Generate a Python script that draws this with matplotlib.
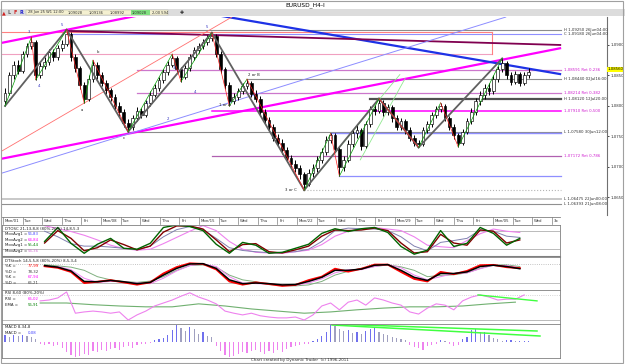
import matplotlib
matplotlib.use("Agg")
import matplotlib.pyplot as plt
from matplotlib.patches import Rectangle
from matplotlib.lines import Line2D

plt.rcParams["font.family"] = "DejaVu Sans"

# ── price data: EURUSD H4 bars (open of bar i = close of bar i-1) ─────────────
first_open = 1.0808
closes = [1.0822, 1.0850, 1.0868, 1.0858, 1.0885, 1.0898, 1.0905, 1.0850, 1.0866, 1.0872,
          1.0888, 1.0880, 1.0895, 1.0902, 1.0918, 1.0880, 1.0862, 1.0835, 1.0812, 1.0845,
          1.0868, 1.0850, 1.0838, 1.0826, 1.0815, 1.0800, 1.0790, 1.0772, 1.0765, 1.0780,
          1.0792, 1.0786, 1.0805, 1.0818, 1.0830, 1.0842, 1.0855, 1.0868, 1.0878, 1.0860,
          1.0848, 1.0862, 1.0880, 1.0892, 1.0898, 1.0905, 1.0912, 1.0915, 1.0885, 1.0860,
          1.0835, 1.0808, 1.0815, 1.0825, 1.0832, 1.0838, 1.0820, 1.0812, 1.0790, 1.0777,
          1.0765, 1.0748, 1.0740, 1.0728, 1.0715, 1.0705, 1.0698, 1.0688, 1.0672, 1.0690,
          1.0698, 1.0712, 1.0725, 1.0745, 1.0752, 1.0730, 1.0700, 1.0712, 1.0738, 1.0755,
          1.0760, 1.0735, 1.0770, 1.0795, 1.0792, 1.0805, 1.0790, 1.0798, 1.0780, 1.0765,
          1.0775, 1.0760, 1.0748, 1.0740, 1.0738, 1.0760, 1.0770, 1.0785, 1.0795, 1.0800,
          1.0780, 1.0765, 1.0752, 1.0740, 1.0758, 1.0775, 1.0790, 1.0808, 1.0818, 1.0830,
          1.0825, 1.0845, 1.0860, 1.0870, 1.0850, 1.0840, 1.0852, 1.0838, 1.0850, 1.0856]
highs = [1.0830, 1.0856, 1.0874, 1.0876, 1.0890, 1.0904, 1.0913, 1.0908, 1.0872, 1.0880,
         1.0894, 1.0893, 1.0900, 1.0908, 1.0925, 1.0921, 1.0886, 1.0866, 1.0840, 1.0850,
         1.0875, 1.0872, 1.0856, 1.0842, 1.0830, 1.0820, 1.0806, 1.0795, 1.0778, 1.0786,
         1.0798, 1.0797, 1.0810, 1.0824, 1.0836, 1.0848, 1.0860, 1.0874, 1.0885, 1.0882,
         1.0864, 1.0868, 1.0886, 1.0897, 1.0904, 1.0910, 1.0917, 1.0920, 1.0918, 1.0890,
         1.0864, 1.0840, 1.0822, 1.0830, 1.0838, 1.0844, 1.0841, 1.0826, 1.0816, 1.0795,
         1.0782, 1.0770, 1.0754, 1.0746, 1.0732, 1.0720, 1.0712, 1.0703, 1.0692, 1.0696,
         1.0705, 1.0718, 1.0731, 1.0750, 1.0755, 1.0756, 1.0734, 1.0718, 1.0744, 1.0761,
         1.0768, 1.0764, 1.0776, 1.0800, 1.0802, 1.0812, 1.0809, 1.0804, 1.0802, 1.0785,
         1.0781, 1.0779, 1.0765, 1.0752, 1.0745, 1.0765, 1.0776, 1.0790, 1.0800, 1.0805,
         1.0803, 1.0784, 1.0770, 1.0756, 1.0763, 1.0780, 1.0796, 1.0813, 1.0824, 1.0836,
         1.0838, 1.0850, 1.0866, 1.0878, 1.0873, 1.0855, 1.0857, 1.0856, 1.0855, 1.0862]
lows = [1.0800, 1.0818, 1.0845, 1.0852, 1.0854, 1.0880, 1.0893, 1.0843, 1.0846, 1.0860,
        1.0868, 1.0874, 1.0876, 1.0890, 1.0898, 1.0874, 1.0855, 1.0828, 1.0805, 1.0808,
        1.0840, 1.0844, 1.0832, 1.0820, 1.0808, 1.0794, 1.0784, 1.0766, 1.0758, 1.0760,
        1.0776, 1.0780, 1.0782, 1.0800, 1.0814, 1.0825, 1.0838, 1.0850, 1.0864, 1.0855,
        1.0840, 1.0844, 1.0858, 1.0876, 1.0887, 1.0893, 1.0900, 1.0906, 1.0880, 1.0854,
        1.0828, 1.0800, 1.0803, 1.0810, 1.0820, 1.0828, 1.0815, 1.0806, 1.0784, 1.0770,
        1.0760, 1.0742, 1.0734, 1.0722, 1.0708, 1.0700, 1.0692, 1.0680, 1.0662, 1.0668,
        1.0684, 1.0692, 1.0706, 1.0720, 1.0740, 1.0724, 1.0685, 1.0694, 1.0708, 1.0732,
        1.0748, 1.0728, 1.0731, 1.0765, 1.0786, 1.0788, 1.0784, 1.0785, 1.0774, 1.0760,
        1.0760, 1.0754, 1.0742, 1.0735, 1.0732, 1.0734, 1.0755, 1.0766, 1.0780, 1.0790,
        1.0775, 1.0760, 1.0746, 1.0733, 1.0736, 1.0754, 1.0770, 1.0786, 1.0802, 1.0812,
        1.0818, 1.0820, 1.0840, 1.0856, 1.0845, 1.0834, 1.0836, 1.0832, 1.0834, 1.0846]

# swing points (bar index, high/low)
minor_swings = [(0, "l"), (6, "h"), (7, "l"), (14, "h"), (18, "l"), (20, "h"), (28, "l"),
                (38, "h"), (40, "l"), (47, "h"), (51, "l"), (55, "h"), (68, "l"), (74, "h"),
                (76, "l"), (85, "h"), (94, "l"), (99, "h"), (103, "l"), (113, "h")]
major_swings = [(0, "l"), (14, "h"), (28, "l"), (47, "h"), (68, "l"), (85, "h"), (94, "l"), (113, "h")]

# wave labels (text, bar, price, colour)
wave_labels = [("3", 5.5, 1.0922, "#3030c0"), ("5", 13.0, 1.0932, "#3030c0"),
               ("4", 7.7, 1.0832, "#3030c0"), ("b", 21.0, 1.0888, "#202020"),
               ("a", 17.5, 1.0793, "#202020"), ("c", 27.0, 1.0747, "#202020"),
               ("1", 32.3, 1.0805, "#3030c0"), ("2", 37.0, 1.0778, "#3030c0"),
               ("3", 38.5, 1.0862, "#3030c0"), ("4", 43.2, 1.0823, "#3030c0"),
               ("5", 46.0, 1.0930, "#3030c0"),
               ("1 or A", 50.0, 1.0801, "#202020"), ("2 or B", 56.5, 1.0850, "#202020"),
               ("3 or C", 65.0, 1.0663, "#202020")]

# retracement of the last big swing: (ratio, first bar, colour, width)
ret_high, ret_low = 1.0920, 1.0662
retracements = [(0.236, 30, "#cc77cc", 0.9), (0.382, 30, "#cc77cc", 0.9),
                (0.500, 47, "#ff00ff", 1.1), (0.786, 47, "#b060b0", 0.9)]

# horizontal levels: (price, first bar, colour, width, style, label)
levels = [(1.0925, 14, "#8c8c8c", 0.8, "-", "H 1,09250 26Jun04:00"),
          (1.0918, 14, "#8f8fff", 0.8, "-", "C 1,09180 26Jun04:00"),
          (1.0844, 55, "#8c8c8c", 0.8, "-", "H 1,08440 02Jul16:00"),
          (1.0812, 83, "#505050", 1.6, "-", "H 1,08120 12Jul20:00"),
          (1.0758, 28, "#8c8c8c", 0.8, "-", "L 1,07580 30Jun12:00"),
          (1.0755, 74, "#8f8fff", 1.0, "-", ""),
          (1.0685, 76, "#8f8fff", 0.9, "-", ""),
          (1.0662, 68, "#b4b4b4", 0.8, ":", ""),
          (1.06475, -1, "#c8c8c8", 1.4, "-", "L 1,06475 22Jun00:00"),
          (1.06393, -1, "#909090", 0.8, "-", "L 1,06393 21Jun08:00")]

# hand-drawn trendlines: ((bar, price), (bar, price), colour, width)
trendlines = [((-1.1, 1.0713), (126.4, 1.0895), "#ff00ff", 1.6),
              ((-1.1, 1.0903), (30.7, 1.0949), "#ff00ff", 1.6),
              ((48.9, 1.0948), (126.4, 1.0852), "#1e32e6", 1.6),
              ((14.3, 1.0923), (126.4, 1.0900), "#800050", 1.3),
              ((-1.1, 1.0689), (113.9, 1.0946), "#8c8cff", 0.7),
              ((-1.1, 1.07245), (51.6, 1.0946), "#ff7070", 0.6),
              ((68.0, 1.0662), (89.8, 1.0852), "#90e890", 0.6),
              ((80.7, 1.0711), (91.0, 1.0846), "#90e890", 0.6)]
box_top, box_bottom, box_end = 1.0921, 1.0885, 110.7

# ── oscillators ───────────────────────────────────────────────────────────────
osc_bars = list(range(9, 118, 3))
dtosc_fast = [45, 90, 39, 7, 36, 55, 23, 20, 39, 90, 98, 93, 80, 36, 7, 42, 33, 7, 10, 23,
              36, 71, 86, 77, 86, 90, 74, 29, 4, 17, 80, 29, 39, 90, 71, 33, 55]
dtosc_fast2 = [40, 80, 55, 15, 25, 50, 35, 18, 30, 75, 95, 95, 85, 50, 12, 35, 38, 12, 8, 18,
               30, 62, 82, 80, 82, 88, 80, 40, 8, 12, 68, 40, 33, 82, 78, 40, 50]
dtosc_slow = [78, 60, 38, 30, 30, 27, 23, 18, 30, 60, 83, 93, 83, 55, 25, 16, 12, 9, 10, 12,
              20, 45, 80, 88, 86, 85, 80, 60, 30, 15, 42, 48, 55, 82, 78, 62, 58]
dtosc_slow2 = [96, 86, 77, 65, 50, 33, 22, 17, 20, 38, 58, 78, 96, 80, 45, 20, 10, 8, 7, 12,
               17, 35, 62, 78, 86, 90, 85, 80, 60, 33, 28, 25, 48, 70, 85, 78, 74]

stoch_k = [73, 68, 55, 20, 24, 29, 22, 15, 22, 50, 70, 82, 80, 63, 25, 15, 22, 17, 11, 14,
           29, 40, 65, 56, 65, 78, 78, 55, 33, 25, 55, 48, 58, 76, 77, 70, 67]
stoch_d = [75, 70, 58, 25, 24, 28, 24, 18, 22, 45, 66, 80, 81, 66, 30, 18, 20, 18, 14, 15,
           25, 38, 60, 60, 64, 76, 78, 60, 38, 28, 50, 50, 55, 72, 76, 72, 65]
stoch_k2 = [72, 72, 62, 35, 22, 25, 24, 20, 18, 35, 58, 75, 80, 72, 40, 20, 18, 17, 14, 13,
            20, 33, 52, 62, 62, 72, 78, 68, 45, 30, 40, 50, 52, 65, 76, 75, 68]
stoch_d2 = [78, 74, 70, 60, 40, 30, 25, 22, 26, 40, 60, 75, 77, 70, 45, 30, 24, 15, 12, 11,
            14, 25, 45, 57, 66, 72, 77, 71, 60, 40, 44, 46, 52, 66, 77, 77, 72]

rsi_bars = list(range(8, 119, 2))
rsi = [65, 67, 72, 86, 36, 39, 41, 39, 36, 39, 20, 32, 41, 53, 60, 67, 76, 84, 74, 67,
       58, 41, 36, 32, 36, 30, 27, 25, 25, 27, 20, 32, 53, 60, 44, 62, 67, 55, 72, 67,
       60, 55, 39, 34, 48, 58, 55, 44, 65, 74, 79, 74, 67, 69, 69, 79]
ema_bars = list(range(8, 119, 6))
rsi_ema = [60, 60, 56, 53, 51, 51, 58, 53, 46, 41, 36, 39, 44, 48, 51, 51, 53, 58, 62]

macd = [7, 5, 7, 6, 7, 6, 5, 3, -2, -3, -2, -4, -3, -6, -10, -13, -15, -14, -12, -13,
        -9, -10, -8, -9, -7, -6, -8, -5, -4, -6, -3, -2, -2, -1, 2, 3, 4, 7, 12, 17,
        14, 11, 15, 13, 8, 10, 6, 5, -4, -9, -13, -15, -14, -12, -10, -11, -9, -8, -10, -12,
        -9, -11, -8, -10, -7, -5, -4, -3, -2, -2, 1, 3, 6, 10, 17, 16, 13, 11, 12, 9,
        10, 8, 11, 13, 14, 10, 8, 7, 5, 4, 3, 2, -3, -5, -6, -8, -4, -3, -2, 2,
        1, -2, -4, -3, 3, 5, 12, 13, 10, 10, 7, 4, 3, 1, 2, 2, 1, 1, 1, 1]
macd = [v / 100 for v in macd]

date_labels = ["Mon/01", "Tue", "Wed", "Thu", "Fri", "Mon/08", "Tue", "Wed", "Thu", "Fri",
               "Mon/15", "Tue", "Wed", "Thu", "Fri", "Mon/22", "Tue", "Wed", "Thu", "Fri",
               "Mon/29", "Tue", "Wed", "Thu", "Fri", "Mon/05", "Tue", "Wed", "3x"]

# ── figure layout (pixel helpers) ─────────────────────────────────────────────
W, H = 625, 364
fig = plt.figure(figsize=(W / 100, H / 100), dpi=100)
fig.patch.set_facecolor("white")


def px_axes(l, t, r, b):
    return fig.add_axes([l / W, 1 - b / H, (r - l) / W, (b - t) / H])


def bar_x(px):
    return (px - 5) / 4.4


def fmt(p, nd=5):
    return f"{p:.{nd}f}".replace(".", ",")


fs = 2.8
ax = px_axes(2, 17, 607, 215)
ax.set_xlim(bar_x(2), bar_x(607))
ax.set_ylim(1.06212, 1.09459)

# candles
n = len(closes)
opens = [first_open] + closes[:-1]
idx = list(range(n))
ax.vlines(idx, lows, highs, color="black", lw=0.7, zorder=5)
body_bot = [min(o, c) for o, c in zip(opens, closes)]
body_h = [max(abs(c - o), 0.00005) for o, c in zip(opens, closes)]
face = ["white" if c >= o else "black" for o, c in zip(opens, closes)]
ax.bar(idx, body_h, bottom=body_bot, width=0.65, color=face, edgecolor="black", lw=0.45, zorder=6)

# levels
xr = bar_x(561)
lab_x = bar_x(564)
for price, start, col, lw, ls, lab in levels:
    ax.plot([max(start, bar_x(2)), xr], [price, price], color=col, lw=lw, ls=ls, zorder=2)
    if lab:
        ax.text(lab_x, price, lab, fontsize=fs, color="#303030", va="center")
for r, start, col, lw in retracements:
    p = ret_high - r * (ret_high - ret_low)
    ax.plot([start, xr], [p, p], color=col, lw=lw, zorder=2)
    ax.text(lab_x, p, fmt(p) + " Ret " + fmt(r, 3), fontsize=fs, color="#d020d0", va="center")

# box and long horizontal lines
ax.plot([bar_x(2), box_end], [box_top, box_top], color="#ff8080", lw=0.8, zorder=2)
ax.plot([bar_x(2), box_end], [box_bottom, box_bottom], color="#f0a0c0", lw=0.8, zorder=2)
ax.plot([box_end, box_end], [box_bottom, box_top], color="#ff8080", lw=0.8, zorder=2)

for (x0, y0), (x1, y1), col, lw in trendlines:
    ax.plot([x0, x1], [y0, y1], color=col, lw=lw, zorder=3, solid_capstyle="butt")


def swing_price(i, kind):
    return highs[i] if kind == "h" else lows[i]


for (i0, k0), (i1, k1) in zip(major_swings[:-1], major_swings[1:]):
    ax.plot([i0, i1], [swing_price(i0, k0), swing_price(i1, k1)], color="#606060", lw=1.3, zorder=7)
for (i0, k0), (i1, k1) in zip(minor_swings[:-1], minor_swings[1:]):
    col = "#00a000" if k1 == "h" else "#ff2020"
    ax.plot([i0, i1], [swing_price(i0, k0), swing_price(i1, k1)], color=col, lw=0.5, zorder=8)

for txt, b, p, col in wave_labels:
    ax.text(b, p, txt, fontsize=fs, color=col, ha="center", va="center", zorder=9)

# right price axis
ax.yaxis.tick_right()
ticks = [1.065, 1.070, 1.075, 1.080, 1.085, 1.090]
ax.set_yticks(ticks)
ax.set_yticklabels([fmt(t, 4) for t in ticks], fontsize=fs, color="#303030")
ax.tick_params(axis="y", length=1.5, width=0.5, pad=0.8)
ax.set_xticks([])
for s in ["top", "left", "bottom"]:
    ax.spines[s].set_visible(False)
ax.spines["right"].set_color("#707070")
ax.spines["right"].set_linewidth(0.8)
last = closes[-1]
ax.annotate(fmt(last), xy=(1.001, last + 0.0004), xycoords=("axes fraction", "data"),
            fontsize=fs, va="center", ha="left", color="black",
            bbox=dict(boxstyle="square,pad=0.1", fc="#ffff00", ec="none"))

# ── lower panels ──────────────────────────────────────────────────────────────
x_lo = (bar_x(2), bar_x(560))


def panel(t, b, ylim):
    a = px_axes(2, t, 560, b)
    a.set_xlim(*x_lo)
    a.set_ylim(*ylim)
    a.set_xticks([])
    a.set_yticks([])
    for s in a.spines.values():
        s.set_color("#808080")
        s.set_linewidth(0.6)
    return a


a1 = panel(225, 257, (-5, 98))
for lv in (80, 20):
    a1.axhline(lv, color="#b0b0b0", lw=0.6)
a1.plot(osc_bars, dtosc_slow2, color="#ee82ee", lw=0.8)
a1.plot(osc_bars, dtosc_slow, color="#8080b0", lw=0.7)
a1.plot(osc_bars, dtosc_fast2, color="#800000", lw=1.0)
a1.plot(osc_bars, dtosc_fast, color="#006400", lw=1.0)
a1.spines["bottom"].set_linewidth(1.5)
t1 = ["DTOSC 21,13,8,8 (80%-20%) 14,8,5,3", "MovAvg1 = ", "MovAvg2 = ", "MovAvg1 = ", "MovAvg2 = "]
v1 = [("", "k"), ("56,83", "#4040ff"), ("64,84", "#ff00ff"), ("55,44", "#008000"), ("54,36", "#d070d0")]

a2 = panel(257, 290, (-2, 102))
a2.axhline(80, color="#b0b0b0", lw=0.6, ls=":")
a2.axhline(20, color="#b0b0b0", lw=0.6)
a2.plot(osc_bars, stoch_d2, color="#80b080", lw=0.7)
a2.plot(osc_bars, stoch_k2, color="#ee82ee", lw=0.7)
a2.plot(osc_bars, stoch_k, color="#ff0000", lw=1.4)
a2.plot(osc_bars, stoch_d, color="#000000", lw=1.1)
t2 = ["DTStoch 14,5,5,8 (80%-20%) 8,5,3,4", "%K = ", "%D = ", "%K = ", "%D = "]
v2 = [("", "k"), ("77,99", "#ff0000"), ("78,32", "#404040"), ("67,94", "#ff00ff"), ("66,21", "#404040")]

a3 = panel(290, 324, (10.6, 90.6))
a3.axhline(80, color="#c8c8c8", lw=0.6, ls=":")
a3.axhline(20, color="#b0b0b0", lw=0.6)
a3.plot(ema_bars, rsi_ema, color="#70b070", lw=0.8)
a3.plot(rsi_bars, rsi, color="#ee82ee", lw=0.8)
a3.plot([bar_x(478), bar_x(537)], [79, 65], color="#40ff40", lw=1.0)
t3 = ["RSI 8,60 (80%-20%)", "RSI = ", "EMA = "]
v3 = [("", "k"), ("66,02", "#ff00ff"), ("56,91", "#008000")]

a4 = panel(324, 358, (-0.16, 0.18))
mcol = []
for i, v in enumerate(macd):
    if v < 0:
        mcol.append("#ee82ee")
    elif i > 0 and v < macd[i - 1]:
        mcol.append("#a0a0c0")
    else:
        mcol.append("#7070ee")
a4.bar(idx, macd, width=0.25, color=mcol, lw=0)
a4.plot([bar_x(332), bar_x(537)], [0.18, 0.11], color="#40ff40", lw=1.1)
a4.plot([bar_x(332), bar_x(540)], [0.17, 0.06], color="#40ff40", lw=1.1)
a4.axhline(-0.155, color="#c0c0c0", lw=0.6, ls=":")
t4 = ["MACD 8,34,8", "MACD = "]
v4 = [("", "k"), ("0,08", "#4040ff")]

for a, tt, vv in [(a1, t1, v1), (a2, t2, v2), (a3, t3, v3), (a4, t4, v4)]:
    hgt = a.get_position().height * H
    for j, (lbl, (val, vc)) in enumerate(zip(tt, vv)):
        y = 1 - (1.5 + j * 5.6) / hgt
        a.text(0.005, y, lbl, transform=a.transAxes, fontsize=fs, color="#202020", va="top")
        if val:
            a.text(0.046, y, val, transform=a.transAxes, fontsize=fs, color=vc, va="top")

# date row
fig.add_artist(Line2D([2 / W, 560 / W], [1 - 217 / H] * 2, color="#808080", lw=0.6))
for k, lab in enumerate(date_labels):
    xp = 3 + 19.6 * k
    fig.text(xp / W + 0.003, 1 - 221.5 / H, lab, fontsize=fs, color="#303030", va="center")
    fig.add_artist(Line2D([xp / W] * 2, [1 - 217 / H, 1 - 224 / H], color="#808080", lw=0.5))

# title bar and toolbar
fig.text(305 / W, 1 - 5 / H, "EURUSD_H4-I", fontsize=4.2, ha="center", va="center")
fig.add_artist(Rectangle((0, 1 - 16 / H), 1, 7 / H, transform=fig.transFigure,
                         fc="#dcdcdc", ec="none"))
fig.add_artist(Rectangle((26 / W, 1 - 15 / H), 142 / W, 5 / H, transform=fig.transFigure,
                         fc="#f4f0d0", ec="#b0b0a0", lw=0.3))
fig.add_artist(Rectangle((131 / W, 1 - 15 / H), 19 / W, 5 / H, transform=fig.transFigure,
                         fc="#80e080", ec="none"))
for xp, s in [(28, "28 Jun 25 W1 12:00"), (68, "1,09028"), (89, "1,09136"),
              (110, "1,08992"), (132, "1,09028"), (152, "2,00 594")]:
    fig.text(xp / W, 1 - 12.5 / H, s, fontsize=2.6, va="center", color="#303030")
for xp, s, c in [(2, "▲", "#d02020"), (8, "L", "#606060"), (14, "F", "#d02020"), (20, "R", "#2020d0")]:
    fig.text(xp / W, 1 - 12.5 / H, s, fontsize=3.5, va="center", color=c, weight="bold")
fig.text(180 / W, 1 - 12.5 / H, "✚", fontsize=3.5, va="center", color="#202020")

fig.text(300 / W, 1 - 360.5 / H, "Chart created by Dynamic Trader  (c) 1996-2011",
         fontsize=2.9, ha="center", va="center", color="#303030")
fig.add_artist(Rectangle((0.5 / W, 1 - 363 / H), 622 / W, 362 / H, transform=fig.transFigure,
                         fc="none", ec="#a0a0a0", lw=0.8))

fig.savefig("out.png", dpi=100)
